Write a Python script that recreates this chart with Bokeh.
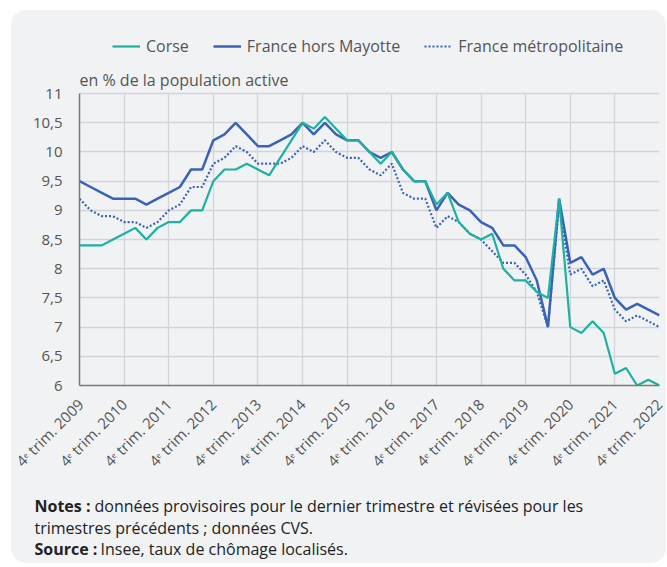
import math
from bokeh.plotting import figure
from bokeh.layouts import column
from bokeh.models import (FixedTicker, Legend, LegendItem, Label, BoxAnnotation,
                          ColumnDataSource, Range1d)
from bokeh.embed import file_html
from bokeh.resources import INLINE

# ---------------- data ----------------
years = [2009, 2010, 2011, 2012, 2013, 2014, 2015, 2016, 2017, 2018, 2019, 2020, 2021, 2022]
tick_labels = ["4ᵉ trim. %d" % y for y in years]

corse = [8.4, 8.4, 8.4, 8.5, 8.6, 8.7, 8.5, 8.7, 8.8, 8.8, 9.0, 9.0, 9.5,
         9.7, 9.7, 9.8, 9.7, 9.6, 9.9, 10.2,
         10.5, 10.4, 10.6, 10.4, 10.2, 10.2, 10.0, 9.8, 10.0, 9.7,
         9.5, 9.5, 9.1, 9.3, 8.8, 8.6, 8.5, 8.6, 8.0, 7.8,
         7.8, 7.6, 7.5, 9.2, 7.0, 6.9, 7.1, 6.9, 6.2, 6.3,
         6.0, 6.1, 6.0]
france_hors_mayotte = [9.5, 9.4, 9.3, 9.2, 9.2, 9.2, 9.1, 9.2, 9.3, 9.4, 9.7, 9.7, 10.2,
                       10.3, 10.5, 10.3, 10.1, 10.1, 10.2, 10.3,
                       10.5, 10.3, 10.5, 10.3, 10.2, 10.2, 10.0, 9.9, 10.0, 9.7,
                       9.5, 9.5, 9.0, 9.3, 9.1, 9.0, 8.8, 8.7, 8.4, 8.4,
                       8.2, 7.8, 7.0, 9.2, 8.1, 8.2, 7.9, 8.0, 7.5, 7.3,
                       7.4, 7.3, 7.2]
france_metro = [9.2, 9.0, 8.9, 8.9, 8.8, 8.8, 8.7, 8.8, 9.0, 9.1, 9.4, 9.4, 9.8,
                9.9, 10.1, 10.0, 9.8, 9.8, 9.8, 9.9,
                10.1, 10.0, 10.2, 10.0, 9.9, 9.9, 9.7, 9.6, 9.8, 9.3,
                9.2, 9.2, 8.7, 8.9, 8.8, 8.6, 8.5, 8.3, 8.1, 8.1,
                7.9, 7.6, 7.0, 9.1, 7.9, 8.0, 7.7, 7.8, 7.3, 7.1,
                7.2, 7.1, 7.0]

y_tick_values = [6, 6.5, 7, 7.5, 8, 8.5, 9, 9.5, 10, 10.5, 11]
y_tick_labels = ["6", "6,5", "7", "7,5", "8", "8,5", "9", "9,5", "10", "10,5", "11"]

series_names = ["Corse", "France hors Mayotte", "France métropolitaine"]
unit_text = "en % de la population active"
notes_lines = [
    ("Notes :", "données provisoires pour le dernier trimestre et révisées pour les"),
    ("", "trimestres précédents ; données CVS."),
    ("Source :", "Insee, taux de chômage localisés."),
]

# ---------------- styles / layout ----------------
FONT = "Open Sans"
TEAL = "#1db1a2"
BLUE = "#3a63b3"
GRID = "#d3d4d7"
PANEL = "#f1f2f4"
TXT = "#555555"
DARK = "#222222"

PANEL_W = 655
MAIN_H = 470
NOTES_H = 83
FRAME_H = 379          # frame from panel top down to the x axis
PX_PER_UNIT = 59.0     # vertical scale of the chart area
HEADER_PX = 84         # room above the 11 gridline (legend + unit text)

y_min, y_max = y_tick_values[0], y_tick_values[-1]
y_top = y_max + HEADER_PX / PX_PER_UNIT

quarter = list(range(len(corse)))
x_ticks = [4 * k for k in range(len(years))]

src = ColumnDataSource(dict(q=quarter, corse=corse, fhm=france_hors_mayotte, metro=france_metro))

p = figure(width=PANEL_W, height=MAIN_H, output_backend="svg", toolbar_location=None,
           x_range=Range1d(0, len(corse) - 1), y_range=Range1d(y_min, y_top),
           min_border_left=68, min_border_right=7, min_border_top=0,
           min_border_bottom=MAIN_H - FRAME_H)
p.frame_align = False
p.background_fill_alpha = 0
p.border_fill_alpha = 0
p.outline_line_color = None

r_metro = p.line("q", "metro", source=src, color=BLUE, line_width=2.2, line_dash="2 2")
r_fhm = p.line("q", "fhm", source=src, color=BLUE, line_width=2.5)
r_corse = p.line("q", "corse", source=src, color=TEAL, line_width=2.2)

# axes
p.xaxis.ticker = FixedTicker(ticks=x_ticks)
p.xaxis.major_label_overrides = {t: lab for t, lab in zip(x_ticks, tick_labels)}
p.yaxis.ticker = FixedTicker(ticks=y_tick_values)
p.yaxis.major_label_overrides = {t: lab for t, lab in zip(y_tick_values, y_tick_labels)}
for yax in p.yaxis:
    yax.bounds = (y_min, y_max)

for ax in (p.xaxis, p.yaxis):
    ax.axis_line_color = "#7a7a7a"
    ax.axis_line_width = 1.5
    ax.major_tick_line_color = None
    ax.minor_tick_line_color = None
    ax.major_label_text_font = FONT
    ax.major_label_text_color = TXT

p.xaxis.major_label_orientation = math.pi / 4
p.xaxis.major_label_text_font_size = "15px"
p.xaxis.major_label_standoff = 10
p.yaxis.major_label_text_font_size = "15px"
p.yaxis.major_label_standoff = 11

xg = p.xgrid[0]
yg = p.ygrid[0]
xg.axis = None
xg.ticker = FixedTicker(ticks=x_ticks[1:])   # the first one coincides with the y axis
xg.grid_line_color = GRID
yg.grid_line_color = GRID
xg.grid_line_width = 1.3
yg.grid_line_width = 1.3

# panel-coloured cover over the header part of the frame (hides vertical grid lines there)
cover = BoxAnnotation(bottom=y_max, fill_color=PANEL, fill_alpha=1, line_color=None,
                      level="underlay")
p.add_layout(cover)

# legend and unit text in the header part of the frame
legend = Legend(items=[LegendItem(label=series_names[0], renderers=[r_corse]),
                       LegendItem(label=series_names[1], renderers=[r_fhm]),
                       LegendItem(label=series_names[2], renderers=[r_metro])],
                orientation="horizontal", location=(33, 328),
                background_fill_alpha=0, border_line_alpha=0,
                padding=0, margin=0, spacing=24, label_standoff=6,
                glyph_width=28, glyph_height=20, label_height=20,
                label_text_font=FONT, label_text_font_size="16px",
                label_text_color=TXT)
p.add_layout(legend)

p.add_layout(Label(x=0, y=306, x_units="screen", y_units="screen", text=unit_text,
                   text_font=FONT, text_font_size="16px", text_color=TXT,
                   text_baseline="middle"))

# order: vertical grid, cover, horizontal grid, the rest
others = [r for r in p.center if r is not xg and r is not yg and r is not cover]
p.center = [xg, cover, yg] + others

# notes figure (frame covers the whole figure so labels are not clipped)
n = figure(width=PANEL_W, height=NOTES_H, output_backend="svg", toolbar_location=None,
           x_range=Range1d(0, PANEL_W), y_range=Range1d(NOTES_H, 0),
           x_axis_type=None, y_axis_type=None,
           min_border_left=0, min_border_right=0, min_border_top=0, min_border_bottom=0)
n.frame_align = False
n.background_fill_alpha = 0
n.border_fill_alpha = 0
n.outline_line_color = None
n.xgrid.visible = False
n.ygrid.visible = False

line_y = [25, 47, 68]
bold_x = 23
rest_x = [83, 23, 89]
for (bold, rest), yy, rx in zip(notes_lines, line_y, rest_x):
    if bold:
        n.add_layout(Label(x=bold_x, y=yy, text=bold, text_font=FONT, text_font_size="16px",
                           text_font_style="bold", text_color=DARK, text_baseline="middle"))
    n.add_layout(Label(x=rx, y=yy, text=rest, text_font=FONT, text_font_size="16px",
                       text_color=DARK, text_baseline="middle"))

layout = column(p, n, spacing=0, margin=(10, 0, 0, 11),
                styles={"background-color": PANEL, "border-radius": "15px"})

open("out.html", "w").write(file_html(layout, INLINE))
